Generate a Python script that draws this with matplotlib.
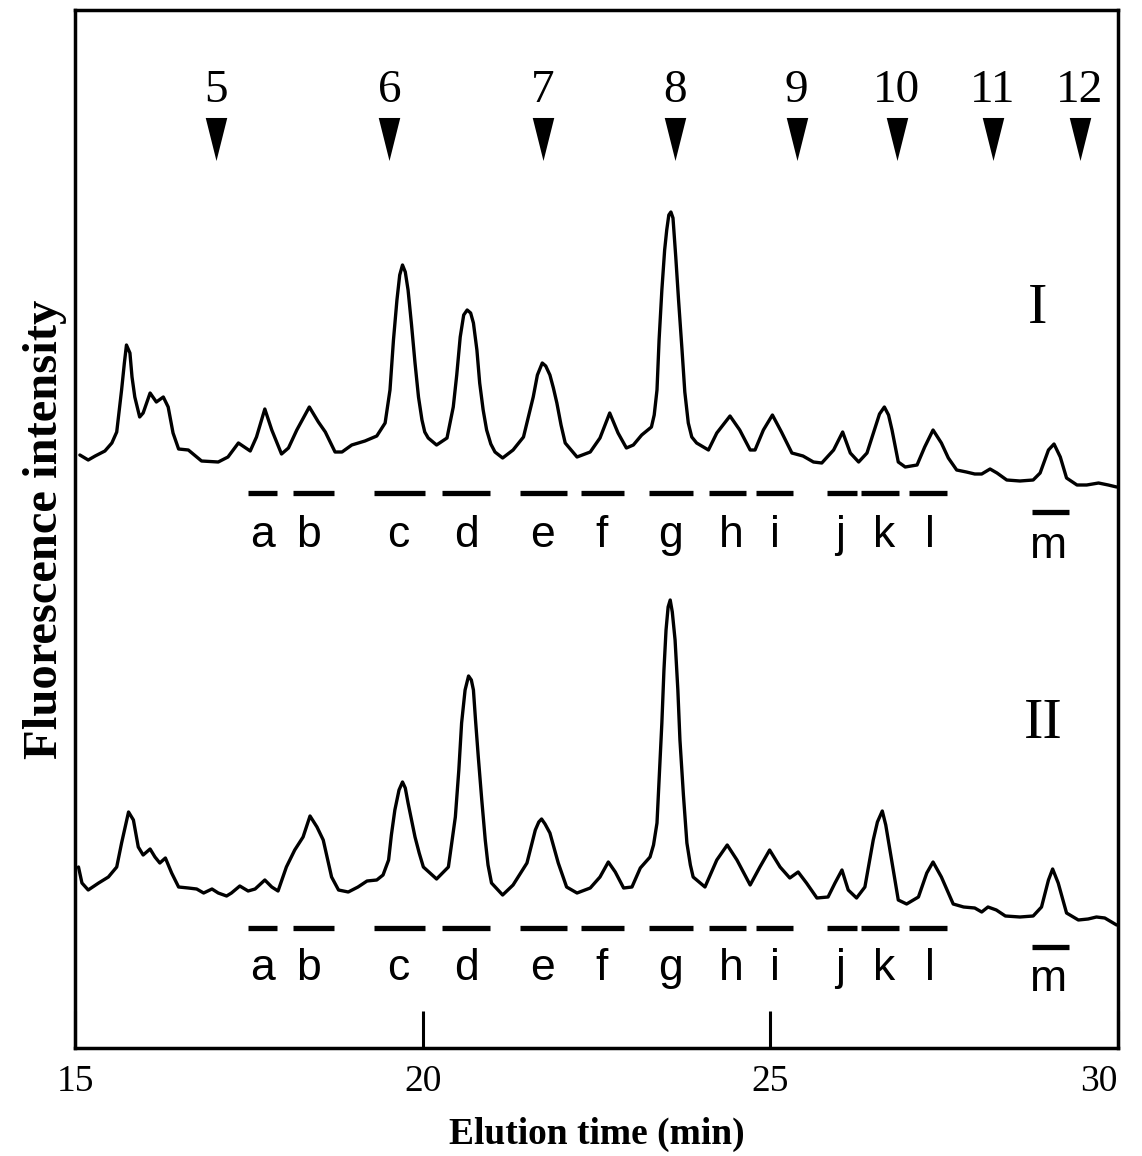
from matplotlib import pyplot as plt
from matplotlib.path import Path
from numpy import array

# --- Data: (time in min, intensity in a.u.) ---

trace_I = [
    (15.07, 45), (15.19, 40), (15.29, 44), (15.43, 49), (15.53, 57), (15.60, 68),
    (15.67, 110), (15.71, 137), (15.74, 155), (15.79, 147), (15.82, 123), (15.86, 103),
    (15.93, 83), (15.98, 87), (16.08, 107), (16.17, 98), (16.27, 103), (16.34, 93),
    (16.41, 67), (16.49, 51), (16.63, 50), (16.82, 39), (17.06, 38), (17.20, 43),
    (17.35, 57), (17.52, 49), (17.61, 63), (17.73, 91), (17.83, 70), (17.97, 46),
    (18.07, 52), (18.19, 70), (18.37, 93), (18.50, 78), (18.60, 68), (18.74, 48),
    (18.84, 48), (18.98, 55), (19.17, 59), (19.34, 64), (19.46, 77), (19.53, 110),
    (19.58, 160), (19.63, 200), (19.67, 225), (19.71, 235), (19.75, 228), (19.79, 210),
    (19.84, 175), (19.89, 137), (19.94, 103), (19.99, 80), (20.03, 68), (20.08, 62),
    (20.20, 55), (20.35, 62), (20.44, 93), (20.49, 125), (20.54, 163), (20.59, 185),
    (20.64, 190), (20.69, 187), (20.73, 177), (20.78, 150), (20.82, 117), (20.87, 90),
    (20.92, 70), (20.98, 56), (21.04, 48), (21.15, 42), (21.30, 50), (21.45, 63),
    (21.59, 103), (21.65, 125), (21.72, 137), (21.77, 134), (21.83, 125), (21.88, 112),
    (21.93, 97), (21.99, 75), (22.05, 57), (22.22, 43), (22.41, 48), (22.55, 62),
    (22.69, 87), (22.81, 67), (22.93, 52), (23.03, 55), (23.15, 65), (23.29, 73),
    (23.33, 85), (23.37, 110), (23.40, 160), (23.44, 210), (23.48, 250), (23.51, 270),
    (23.54, 285), (23.57, 288), (23.60, 282), (23.64, 243), (23.68, 200), (23.73, 150),
    (23.77, 108), (23.82, 77), (23.87, 63), (23.94, 57), (24.11, 50), (24.23, 67),
    (24.42, 84), (24.56, 70), (24.71, 50), (24.78, 50), (24.90, 70), (25.03, 85),
    (25.16, 68), (25.31, 47), (25.47, 44), (25.62, 38), (25.74, 37), (25.91, 50),
    (26.04, 68), (26.15, 47), (26.27, 38), (26.39, 47), (26.51, 73), (26.57, 86),
    (26.64, 93), (26.70, 85), (26.75, 70), (26.84, 38), (26.94, 33), (27.11, 35),
    (27.22, 53), (27.34, 70), (27.46, 57), (27.56, 42), (27.68, 30), (27.82, 28),
    (27.94, 26), (28.04, 26), (28.16, 31), (28.26, 27), (28.40, 20), (28.59, 19),
    (28.78, 20), (28.88, 27), (29.00, 50), (29.08, 56), (29.17, 43), (29.26, 22),
    (29.41, 15), (29.55, 15), (29.72, 17), (29.86, 15), (29.98, 13),
]

trace_II = [
    (15.05, 68), (15.10, 52), (15.19, 45), (15.34, 52), (15.48, 58), (15.60, 68),
    (15.67, 92), (15.77, 123), (15.84, 115), (15.91, 88), (15.98, 80), (16.08, 86),
    (16.15, 78), (16.22, 72), (16.30, 77), (16.39, 62), (16.49, 48), (16.63, 47),
    (16.75, 46), (16.85, 42), (16.97, 46), (17.06, 42), (17.18, 39), (17.25, 42),
    (17.37, 49), (17.49, 44), (17.59, 46), (17.73, 55), (17.83, 48), (17.92, 44),
    (18.04, 68), (18.16, 85), (18.28, 98), (18.38, 119), (18.48, 108), (18.57, 95),
    (18.69, 58), (18.79, 45), (18.93, 43), (19.07, 48), (19.20, 54), (19.34, 55),
    (19.43, 60), (19.51, 75), (19.55, 100), (19.60, 125), (19.66, 145), (19.71, 153),
    (19.75, 147), (19.79, 132), (19.84, 115), (19.89, 98), (19.95, 82), (20.01, 68),
    (20.20, 56), (20.37, 68), (20.47, 118), (20.52, 165), (20.56, 212), (20.61, 245),
    (20.66, 259), (20.70, 255), (20.73, 245), (20.76, 215), (20.80, 178), (20.85, 135),
    (20.90, 95), (20.94, 70), (20.99, 52), (21.15, 40), (21.30, 50), (21.50, 72),
    (21.62, 105), (21.67, 113), (21.71, 116), (21.76, 111), (21.83, 102), (21.95, 72),
    (22.07, 48), (22.22, 42), (22.41, 47), (22.55, 58), (22.67, 73), (22.77, 63),
    (22.89, 47), (23.01, 48), (23.13, 67), (23.27, 78), (23.32, 90), (23.37, 112),
    (23.40, 155), (23.44, 212), (23.47, 265), (23.50, 305), (23.53, 328), (23.56, 335),
    (23.59, 323), (23.63, 295), (23.67, 245), (23.70, 195), (23.75, 140), (23.80, 92),
    (23.85, 70), (23.89, 58), (24.06, 48), (24.23, 75), (24.38, 90), (24.52, 75),
    (24.71, 50), (24.85, 68), (24.99, 85), (25.14, 68), (25.28, 57), (25.40, 63),
    (25.52, 52), (25.67, 37), (25.83, 38), (25.93, 52), (26.03, 65), (26.12, 45),
    (26.24, 37), (26.36, 48), (26.48, 95), (26.54, 113), (26.61, 124), (26.66, 110),
    (26.72, 85), (26.84, 35), (26.96, 31), (27.13, 38), (27.25, 62), (27.34, 73),
    (27.46, 58), (27.63, 31), (27.78, 28), (27.94, 27), (28.04, 23), (28.13, 28),
    (28.25, 25), (28.38, 19), (28.59, 18), (28.78, 19), (28.90, 28), (29.00, 55),
    (29.06, 66), (29.14, 52), (29.26, 22), (29.43, 15), (29.57, 16), (29.69, 18),
    (29.81, 17), (29.98, 10),
]

# collected fractions (bars) and their labels
frac_names = ["a", "b", "c", "d", "e", "f", "g", "h", "i", "j", "k", "l", "m"]
frac_start = [17.49, 18.14, 19.30, 20.28, 21.40, 22.28, 23.25, 24.12, 24.79,
              25.82, 26.31, 27.00, 28.76]
frac_end = [17.90, 18.72, 20.03, 20.97, 22.07, 22.89, 23.89, 24.65, 25.33,
            26.24, 26.85, 27.54, 29.29]
frac_label_t = [17.69, 18.36, 19.65, 20.63, 21.73, 22.57, 23.56, 24.44, 25.07,
                26.00, 26.63, 27.29, 29.00]

# elution positions of the standards (glucose units)
std_names = ["5", "6", "7", "8", "9", "10", "11", "12"]
std_time = [17.03, 19.52, 21.73, 23.63, 25.38, 26.82, 28.20, 29.45]

x_ticks = [15, 20, 25, 30]

# --- Layout (axes units) ---
OFFSET_I = 548
OFFSET_II = 113
BAR_Y = {"I": 555, "II": 120}
LABEL_Y = {"I": 501, "II": 68}
M_SHIFT = 19  # fraction m is drawn a bit lower

serif = ["Liberation Serif", "DejaVu Serif"]
sans = ["Liberation Sans", "DejaVu Sans"]

fig = plt.figure(figsize=(11.42, 11.56), dpi=100)
ax = fig.add_axes([75 / 1142, 108 / 1156, 1043 / 1142, 1038 / 1156])

for trace, offset in [(trace_I, OFFSET_I), (trace_II, OFFSET_II)]:
    t, s = zip(*trace)
    ax.plot(t, array(s) + offset, color="black", lw=2.4,
            solid_joinstyle="round", solid_capstyle="round")

# fraction bars with letters under each trace
for trace in ["I", "II"]:
    for name, t0, t1, tl in zip(frac_names, frac_start, frac_end, frac_label_t):
        shift = M_SHIFT if name == "m" else 0
        ax.hlines(BAR_Y[trace] - shift, t0, t1, color="black", lw=3.8)
        ax.text(tl, LABEL_Y[trace] - shift * 0.6, name, ha="center", va="baseline",
                fontsize=32, family=sans)

# standards: downward triangles with their numbers
tri = Path([(-0.25, 0.5), (0.25, 0.5), (0, -0.5), (-0.25, 0.5)],
           [Path.MOVETO, Path.LINETO, Path.LINETO, Path.CLOSEPOLY])
ax.plot(std_time, [909] * len(std_time), linestyle="none", marker=tri,
        markersize=31, color="black", markeredgewidth=0)
for name, t in zip(std_names, std_time):
    ax.text(t, 946, name, ha="center", va="baseline", fontsize=34, family=serif)

ax.text(28.85, 725, "I", ha="center", va="baseline", fontsize=42, family=serif)
ax.text(28.92, 310, "II", ha="center", va="baseline", fontsize=42, family=serif)

ax.set_xlim(15, 30)
ax.set_ylim(0, 1038)
ax.set_xticks(x_ticks)
ax.set_xticklabels([str(v) for v in x_ticks], fontsize=27, family=serif)
ax.get_xticklabels()[-1].set_ha("right")
ax.set_yticks([])
ax.tick_params(axis="x", direction="in", length=27, width=2.2, pad=12)
for spine in ax.spines.values():
    spine.set_linewidth(2.5)

ax.set_xlabel("Elution time (min)", fontsize=27, fontweight="bold", family=serif,
              labelpad=13)
ax.set_ylabel("Fluorescence intensity", fontsize=35, fontweight="bold", family=serif,
              labelpad=6)

fig.savefig("out.png", dpi=100)
